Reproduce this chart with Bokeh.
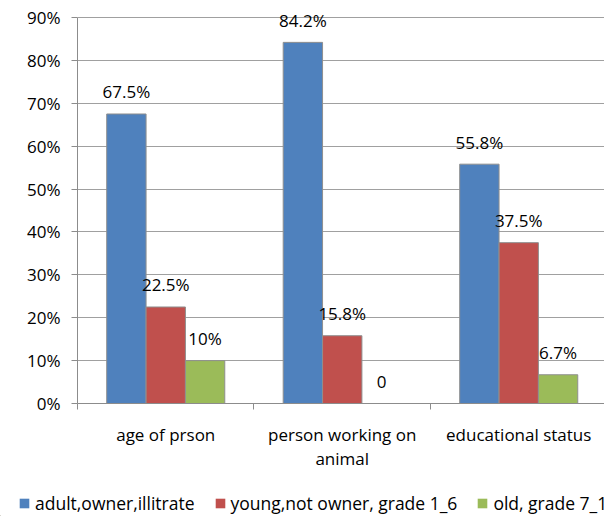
from bokeh.plotting import figure
from bokeh.models import (ColumnDataSource, FixedTicker, Legend, LegendItem, Range1d)
from bokeh.layouts import column
from bokeh.core.properties import value
from bokeh.embed import file_html
from bokeh.resources import INLINE

categories = ["age of prson", "person working on\nanimal", "educational status"]
series_names = ["adult,owner,illitrate", "young,not owner, grade 1_6", "old, grade 7_12"]
adult = [67.5, 84.2, 55.8]
young = [22.5, 15.8, 37.5]
old = [10.0, 0.0, 6.7]
label_adult = ["67.5%", "84.2%", "55.8%"]
label_young = ["22.5%", "15.8%", "37.5%"]
label_old = ["10%", "0", "6.7%"]
y_ticks = [0, 10, 20, 30, 40, 50, 60, 70, 80, 90]

colors = ["#4F81BD", "#C0504D", "#9BBB59"]
FONT = "Open Sans"
FS = "17px"

p = figure(width=604, height=473, output_backend="svg", toolbar_location=None,
           x_range=Range1d(0, 2.986), y_range=Range1d(0, 93.96),
           min_border_left=77, min_border_right=0, min_border_top=0, min_border_bottom=70)
p.outline_line_color = None
p.background_fill_color = "white"
p.frame_align = False

bw = 0.223
offsets = [-bw, 0.0, bw]
for k, (vals, labs) in enumerate([(adult, label_adult), (young, label_young), (old, label_old)]):
    xs = [i + 0.5 + offsets[k] for i in range(len(categories))]
    src = ColumnDataSource(dict(x=xs, top=vals, lab=labs))
    p.vbar(x="x", top="top", width=bw, bottom=0, source=src,
           fill_color=colors[k], line_color="#8f8f8f", line_width=1)
    p.text(x="x", y="top", text="lab", source=src, y_offset=-22,
           text_align="center", text_baseline="middle",
           text_font=value(FONT), text_font_size=FS, text_color="black")

# y axis
p.yaxis.ticker = FixedTicker(ticks=y_ticks)
p.yaxis.major_label_overrides = {t: f"{t}%" for t in y_ticks}
p.yaxis.bounds = (0, 90)
p.yaxis.axis_line_color = "#8c8c8c"
p.yaxis.major_tick_line_color = "#8c8c8c"
p.yaxis.major_tick_out = 6
p.yaxis.major_tick_in = 0
p.yaxis.minor_tick_line_color = None
p.yaxis.major_label_text_font = FONT
p.yaxis.major_label_text_font_size = FS
p.yaxis.major_label_text_color = "black"
p.yaxis.major_label_standoff = 11

p.ygrid.ticker = FixedTicker(ticks=y_ticks)
p.ygrid.grid_line_color = "#a0a0a0"
p.xgrid.grid_line_color = None

# x axis
p.xaxis.ticker = FixedTicker(ticks=[0.5, 1.5, 2.5], minor_ticks=[0, 1, 2, 3])
p.xaxis.major_label_overrides = {0.5: categories[0], 1.5: categories[1], 2.5: categories[2]}
p.xaxis.axis_line_color = "#8c8c8c"
p.xaxis.major_tick_line_color = None
p.xaxis.minor_tick_line_color = "#8c8c8c"
p.xaxis.minor_tick_out = 6
p.xaxis.minor_tick_in = 0
p.xaxis.major_label_text_font = FONT
p.xaxis.major_label_text_font_size = FS
p.xaxis.major_label_text_color = "black"
p.xaxis.major_label_text_line_height = 1.05
p.xaxis.major_label_standoff = 13
p.xaxis.major_tick_out = 0

# legend strip
lg = figure(width=604, height=43, output_backend="svg", toolbar_location=None,
            x_range=Range1d(0, 604), y_range=Range1d(0, 43),
            min_border=0, x_axis_location=None, y_axis_location=None)
lg.outline_line_color = None
lg.xgrid.grid_line_color = None
lg.ygrid.grid_line_color = None
lg.frame_align = False
items = []
for k in range(3):
    r = lg.vbar(x=[-1000], top=[1], width=1, fill_color=colors[k], line_color=None)
    items.append(LegendItem(label=series_names[k], renderers=[r]))
legend = Legend(items=items, orientation="horizontal", location=(18, 1),
                label_text_font=FONT, label_text_font_size="17.5px", label_text_color="black",
                glyph_width=12, glyph_height=12, label_standoff=5, spacing=19,
                padding=0, margin=0, border_line_color=None, background_fill_alpha=0)
lg.add_layout(legend, "center")

layout = column(p, lg, spacing=0)
open("out.html", "w").write(file_html(layout, INLINE))
